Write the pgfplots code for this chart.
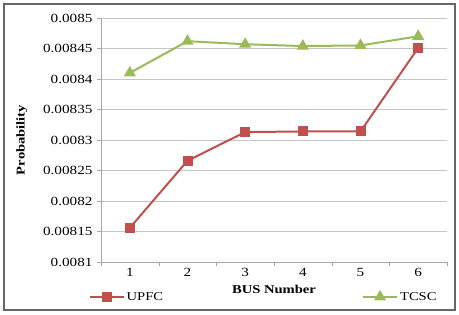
\documentclass[border=0pt]{standalone}
\usepackage{pgfplots}
\pgfplotsset{compat=1.18}
\usepackage{fontspec}
\setmainfont{Liberation Serif}[FakeStretch=1.22]
\definecolor{upfc}{HTML}{C0504D}
\definecolor{tcsc}{HTML}{9BBB59}
\begin{document}
\begin{tikzpicture}[x=1bp,y=1bp]
\useasboundingbox (0,0) rectangle (459,314);
\draw[gray!80!black, line width=1.5bp] (4,4) rectangle (455,310);
\begin{axis}[
  at={(101bp,52bp)}, anchor=south west,
  scale only axis, width=346bp, height=244bp,
  xmin=0.5, xmax=6.5, ymin=0.0081, ymax=0.0085,
  axis lines=left, axis line style={-, gray!70},
  xtick={1,2,3,4,5,6}, major x tick style={draw=none},
  minor xtick={0.5,1.5,2.5,3.5,4.5,5.5,6.5},
  minor x tick style={gray!70},
  ytick={0.0081,0.00815,0.0082,0.00825,0.0083,0.00835,0.0084,0.00845,0.0085},
  y tick style={gray!70},
  tick align=outside, major tick length=4bp, minor tick length=4bp,
  ymajorgrids, grid style={gray!45, line width=0.8bp},
  scaled y ticks=false,
  yticklabel style={/pgf/number format/fixed, /pgf/number format/precision=5, xshift=-1bp},
  /pgf/number format/assume math mode=true,
  ticklabel style={font=\fontsize{12.5}{14}\selectfont},
  xticklabel style={yshift=1bp},
  xlabel={\textbf{BUS Number}}, ylabel={\textbf{Probability}},
  label style={font=\fontsize{12}{14}\selectfont},
  xlabel style={yshift=-1bp},
  ylabel style={yshift=9bp},
  legend style={at={(-0.045,-0.143)}, anchor=west, draw=none, fill=none,
    font=\fontsize{12}{14}\selectfont, legend columns=2,
    /tikz/every even column/.append style={column sep=197bp}},
  legend cell align=left,
  legend image code/.code={\draw[mark repeat=2,mark phase=2] plot coordinates {(0bp,0bp) (17bp,0bp) (34bp,0bp)};},
]
\addplot[upfc, line width=2bp, mark=square*, mark size=4bp, mark options={fill=upfc}]
  coordinates {(1,0.008156) (2,0.008266) (3,0.008313) (4,0.008314) (5,0.008314) (6,0.008451)};
\addlegendentry{UPFC}
\addplot[tcsc, line width=2bp, mark=triangle*, mark size=5bp, mark options={fill=tcsc}]
  coordinates {(1,0.00841) (2,0.008462) (3,0.008457) (4,0.008454) (5,0.008455) (6,0.008470)};
\addlegendentry{TCSC}
\end{axis}
\end{tikzpicture}
\end{document}
